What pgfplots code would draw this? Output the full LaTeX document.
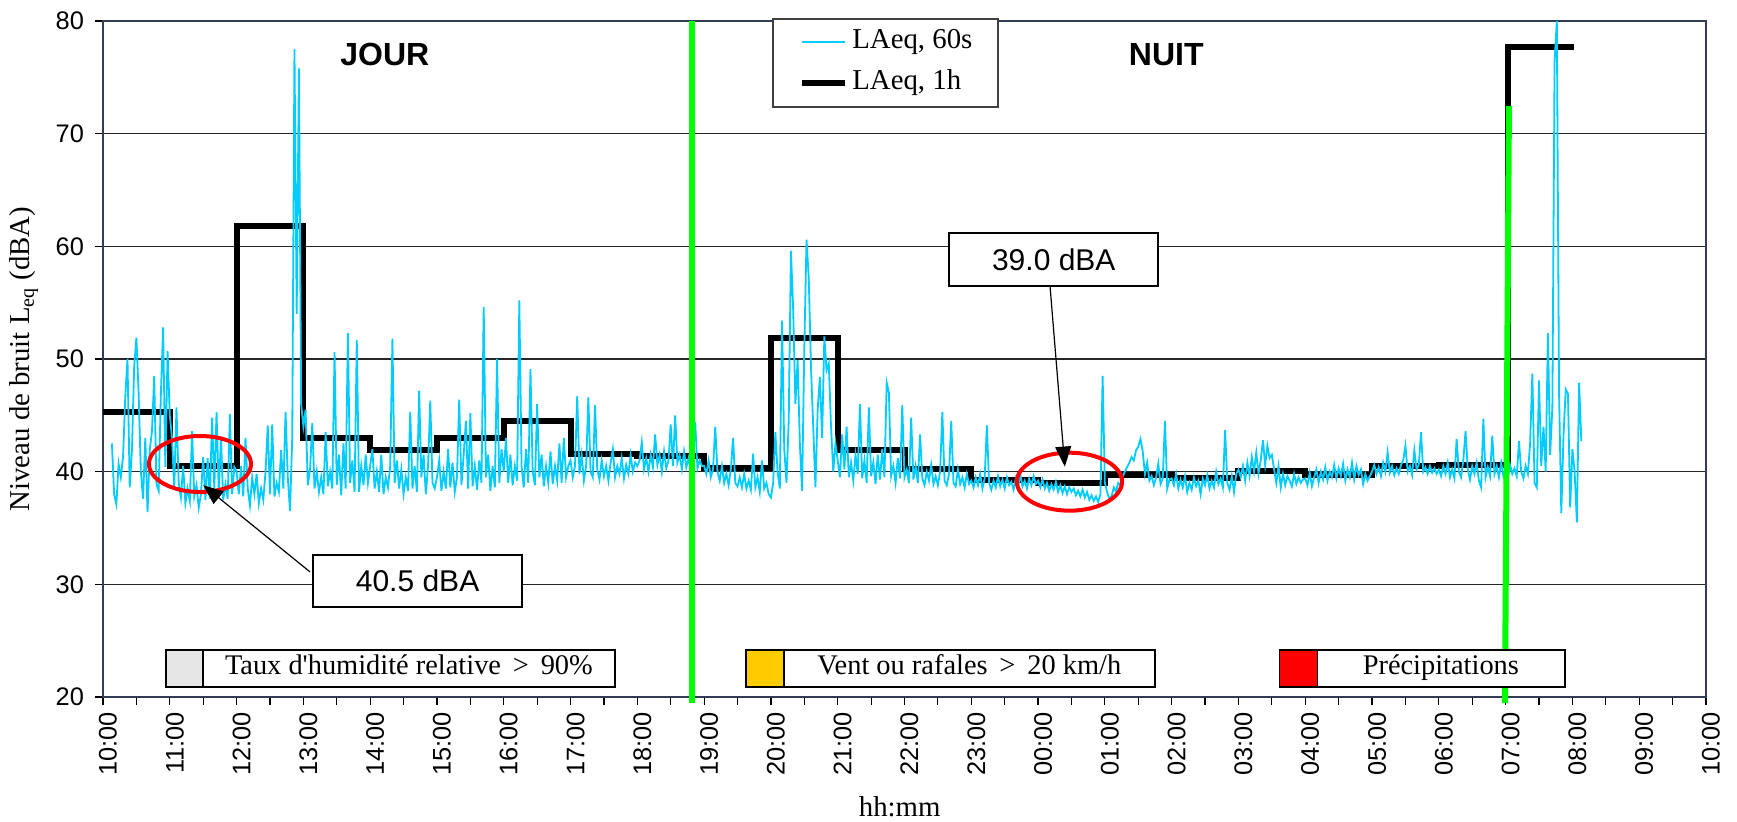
\documentclass[border=0pt]{standalone}
\usepackage{pgfplots}
\pgfplotsset{compat=1.18}
\usepackage{pgfplotstable}
\usepackage{fontspec}
\setmainfont{Liberation Serif}
\newfontfamily\arial{Liberation Sans}
\usetikzlibrary{arrows.meta}

\definecolor{cyanline}{RGB}{0,204,255}
\definecolor{greenline}{RGB}{0,255,0}
\definecolor{framecol}{RGB}{50,60,85}
\definecolor{humid}{RGB}{230,230,230}
\definecolor{wind}{RGB}{255,204,0}

% LAeq over 60 s, one value every 2 minutes from 10:08 to 08:08 (one line per hour)
\pgfplotstableread[row sep=\\]{
v\\
42.5\\ 38.0\\ 37.1\\ 40.7\\ 39.5\\ 41.3\\ 46.6\\ 50.0\\ 38.6\\ 41.9\\ 49.3\\ 51.9\\ 47.0\\ 40.0\\ 37.6\\ 43.0\\ 36.4\\ 41.9\\ 43.6\\ 48.5\\ 38.9\\ 38.3\\ 46.9\\ 52.8\\ 40.4\\ 50.7\\
45.0\\ 43.0\\ 38.5\\ 45.7\\ 39.0\\ 37.7\\ 40.5\\ 37.2\\ 38.5\\ 37.4\\ 43.6\\ 37.8\\ 38.8\\ 36.8\\ 38.0\\ 41.3\\ 37.5\\ 41.2\\ 37.6\\ 44.8\\ 38.5\\ 45.3\\ 38.2\\ 43.0\\ 37.5\\ 38.9\\ 37.6\\ 45.1\\ 38.0\\ 40.4\\
40.0\\ 38.0\\ 40.5\\ 37.8\\ 43.0\\ 38.5\\ 37.0\\ 39.5\\ 38.0\\ 39.8\\ 37.2\\ 38.5\\ 37.5\\ 40.0\\ 44.1\\ 38.0\\ 44.2\\ 37.8\\ 39.0\\ 38.2\\ 41.9\\ 38.5\\ 45.3\\ 39.5\\ 36.5\\ 43.0\\ 77.5\\ 54.0\\ 75.8\\ 46.0\\
44.0\\ 45.5\\ 38.8\\ 40.2\\ 44.3\\ 38.5\\ 40.0\\ 38.2\\ 39.5\\ 38.0\\ 43.5\\ 38.7\\ 40.0\\ 38.5\\ 50.6\\ 38.8\\ 41.5\\ 37.9\\ 42.5\\ 38.5\\ 52.3\\ 39.0\\ 41.0\\ 38.2\\ 51.7\\ 38.2\\ 40.5\\ 38.8\\ 41.5\\ 39.0\\
40.5\\ 42.0\\ 38.5\\ 40.0\\ 38.2\\ 41.5\\ 38.0\\ 39.5\\ 38.6\\ 40.5\\ 51.8\\ 39.0\\ 41.0\\ 38.5\\ 40.2\\ 38.0\\ 39.5\\ 38.3\\ 45.3\\ 38.5\\ 40.5\\ 38.2\\ 47.2\\ 39.5\\ 41.5\\ 38.0\\ 40.5\\ 46.3\\ 39.0\\ 38.5\\
39.5\\ 41.0\\ 38.3\\ 40.0\\ 38.5\\ 42.0\\ 38.6\\ 40.8\\ 38.2\\ 39.5\\ 46.4\\ 38.8\\ 41.5\\ 44.5\\ 38.5\\ 45.2\\ 38.7\\ 40.5\\ 38.4\\ 41.0\\ 39.0\\ 54.6\\ 39.5\\ 41.5\\ 38.3\\ 40.5\\ 38.6\\ 50.0\\ 39.0\\ 42.0\\
40.0\\ 43.0\\ 39.0\\ 41.5\\ 38.8\\ 40.5\\ 39.2\\ 55.2\\ 40.5\\ 38.6\\ 42.0\\ 39.0\\ 49.1\\ 40.0\\ 38.8\\ 46.0\\ 39.5\\ 41.5\\ 38.7\\ 40.5\\ 39.0\\ 41.8\\ 38.9\\ 40.5\\ 39.2\\ 42.5\\ 39.0\\ 43.0\\ 39.5\\ 40.5\\
41.0\\ 39.5\\ 40.5\\ 46.7\\ 39.8\\ 41.5\\ 39.2\\ 40.5\\ 46.6\\ 40.0\\ 39.5\\ 45.9\\ 40.2\\ 39.3\\ 41.0\\ 39.6\\ 40.5\\ 39.2\\ 40.8\\ 42.0\\ 39.5\\ 40.5\\ 39.8\\ 41.2\\ 39.4\\ 40.6\\ 39.8\\ 41.5\\ 40.0\\ 40.8\\
40.5\\ 41.0\\ 42.6\\ 40.2\\ 41.2\\ 40.0\\ 41.5\\ 40.4\\ 43.3\\ 40.6\\ 41.5\\ 40.0\\ 41.8\\ 40.3\\ 41.0\\ 44.2\\ 40.5\\ 45.0\\ 40.8\\ 41.5\\ 40.2\\ 41.8\\ 40.4\\ 41.2\\ 40.0\\ 41.5\\ 44.4\\ 40.3\\ 41.0\\ 40.5\\
40.5\\ 39.8\\ 41.0\\ 39.5\\ 40.2\\ 44.0\\ 40.0\\ 39.2\\ 40.5\\ 39.0\\ 39.8\\ 38.8\\ 40.2\\ 43.0\\ 39.0\\ 38.7\\ 39.5\\ 38.6\\ 39.8\\ 38.5\\ 39.2\\ 38.4\\ 41.6\\ 38.6\\ 39.5\\ 38.2\\ 41.0\\ 38.5\\ 39.0\\ 38.0\\
37.7\\ 39.0\\ 43.5\\ 40.0\\ 38.5\\ 53.4\\ 42.0\\ 39.0\\ 44.5\\ 59.6\\ 54.4\\ 46.0\\ 49.9\\ 42.5\\ 38.3\\ 51.0\\ 60.6\\ 57.2\\ 49.3\\ 44.0\\ 38.6\\ 45.5\\ 48.4\\ 43.0\\ 52.0\\ 49.0\\ 49.6\\ 44.0\\ 40.0\\ 42.5\\
41.0\\ 39.5\\ 43.3\\ 40.2\\ 44.0\\ 39.5\\ 40.8\\ 39.2\\ 41.5\\ 39.8\\ 46.0\\ 39.4\\ 41.0\\ 39.0\\ 45.7\\ 39.6\\ 40.8\\ 38.9\\ 41.5\\ 39.3\\ 42.0\\ 39.5\\ 47.9\\ 47.0\\ 39.6\\ 40.5\\ 39.0\\ 41.2\\ 39.4\\ 45.9\\
39.5\\ 40.2\\ 39.0\\ 44.8\\ 39.3\\ 40.5\\ 39.0\\ 43.3\\ 39.4\\ 38.8\\ 40.0\\ 39.2\\ 40.6\\ 38.9\\ 39.6\\ 38.8\\ 40.0\\ 45.3\\ 39.2\\ 38.8\\ 39.8\\ 44.5\\ 39.0\\ 38.7\\ 40.2\\ 38.9\\ 39.5\\ 38.6\\ 39.8\\ 38.9\\
39.2\\ 38.6\\ 39.5\\ 38.8\\ 39.8\\ 38.5\\ 39.4\\ 44.1\\ 39.0\\ 38.4\\ 39.2\\ 38.6\\ 39.6\\ 38.7\\ 39.3\\ 38.5\\ 39.5\\ 38.8\\ 39.1\\ 38.4\\ 39.4\\ 38.6\\ 39.8\\ 38.7\\ 39.2\\ 38.5\\ 39.4\\ 38.8\\ 39.6\\ 38.9\\
39.2\\ 38.6\\ 39.3\\ 38.5\\ 39.0\\ 38.3\\ 38.9\\ 38.4\\ 39.1\\ 38.2\\ 38.8\\ 38.1\\ 38.7\\ 38.0\\ 38.6\\ 38.2\\ 38.5\\ 37.9\\ 38.3\\ 37.8\\ 38.4\\ 37.7\\ 38.2\\ 37.5\\ 37.9\\ 37.4\\ 37.8\\ 37.3\\ 38.0\\ 48.5\\
39.0\\ 38.2\\ 37.6\\ 37.8\\ 38.6\\ 38.2\\ 39.0\\ 38.8\\ 39.6\\ 40.0\\ 40.4\\ 40.8\\ 41.3\\ 41.0\\ 41.9\\ 42.2\\ 42.9\\ 41.8\\ 39.8\\ 40.8\\ 39.2\\ 39.6\\ 38.8\\ 39.5\\ 40.7\\ 38.9\\ 39.4\\ 44.5\\ 38.5\\ 39.3\\
39.4\\ 38.8\\ 39.8\\ 38.5\\ 39.3\\ 38.6\\ 39.6\\ 38.2\\ 39.0\\ 38.4\\ 39.5\\ 38.7\\ 39.2\\ 38.0\\ 39.4\\ 38.8\\ 39.7\\ 38.5\\ 39.2\\ 38.6\\ 40.0\\ 38.9\\ 39.4\\ 38.6\\ 43.7\\ 39.0\\ 38.4\\ 39.6\\ 38.2\\ 39.8\\
40.2\\ 39.5\\ 40.5\\ 39.2\\ 40.8\\ 39.6\\ 41.3\\ 40.0\\ 41.7\\ 39.8\\ 41.0\\ 42.8\\ 40.6\\ 42.3\\ 41.2\\ 41.5\\ 40.2\\ 39.0\\ 40.5\\ 38.6\\ 39.8\\ 38.8\\ 39.6\\ 39.2\\ 38.7\\ 39.8\\ 38.9\\ 39.5\\ 39.0\\ 39.3\\
39.4\\ 38.8\\ 39.9\\ 38.7\\ 39.5\\ 40.2\\ 39.0\\ 40.0\\ 39.3\\ 40.4\\ 39.2\\ 40.0\\ 39.5\\ 40.6\\ 39.4\\ 40.3\\ 39.6\\ 40.7\\ 39.2\\ 40.2\\ 39.5\\ 40.8\\ 39.3\\ 40.5\\ 39.7\\ 40.2\\ 38.9\\ 39.8\\ 39.2\\ 39.6\\
40.0\\ 40.6\\ 39.8\\ 40.4\\ 39.6\\ 40.8\\ 40.0\\ 41.7\\ 39.9\\ 40.5\\ 39.7\\ 40.3\\ 39.8\\ 40.6\\ 41.0\\ 42.3\\ 40.0\\ 40.5\\ 39.7\\ 41.9\\ 40.2\\ 40.6\\ 43.5\\ 40.0\\ 40.4\\ 39.8\\ 40.5\\ 39.9\\ 40.3\\ 39.8\\
40.2\\ 39.6\\ 40.5\\ 39.8\\ 40.8\\ 39.5\\ 40.2\\ 39.4\\ 42.9\\ 40.0\\ 39.5\\ 41.0\\ 43.6\\ 40.2\\ 39.3\\ 40.5\\ 39.8\\ 40.8\\ 39.2\\ 38.6\\ 44.7\\ 39.5\\ 40.4\\ 39.6\\ 43.2\\ 39.8\\ 40.5\\ 39.5\\ 40.8\\ 39.6\\
40.2\\ 39.5\\ 40.6\\ 39.8\\ 40.3\\ 39.6\\ 42.7\\ 40.0\\ 39.4\\ 40.5\\ 39.8\\ 42.5\\ 48.7\\ 39.0\\ 38.6\\ 48.1\\ 40.5\\ 44.0\\ 40.0\\ 52.3\\ 41.5\\ 45.7\\ 76.4\\ 80.0\\ 47.0\\ 36.3\\ 43.2\\ 47.3\\ 46.9\\ 36.8\\ 42.0\\ 40.0\\ 35.5\\ 47.9\\ 42.7\\
}\laeqmin

\begin{document}
\begin{tikzpicture}
\useasboundingbox (-51.5pt,-62.5pt) rectangle (817pt,348.5pt);
\begin{axis}[
  at={(0,0)}, anchor=south west,
  scale only axis, width=801.5pt, height=338pt,
  xmin=0, xmax=24, ymin=20, ymax=80,
  clip=false,
  xtick={0,1,...,24},
  xticklabels={10:00,11:00,12:00,13:00,14:00,15:00,16:00,17:00,18:00,19:00,20:00,21:00,22:00,23:00,00:00,01:00,02:00,03:00,04:00,05:00,06:00,07:00,08:00,09:00,10:00},
  minor x tick num=1,
  ytick={20,30,...,80},
  tick pos=left,
  tick align=outside,
  major tick length=4pt, minor tick length=4pt,
  tick style={black, line width=0.6pt},
  minor tick style={black, line width=0.6pt},
  ymajorgrids,
  grid style={black!85, line width=0.6pt},
  axis line style={framecol, line width=1pt},
  /pgf/number format/assume math mode=true,
  yticklabel style={font=\arial\fontsize{12.7}{14}\selectfont, xshift=-2pt},
  xticklabel style={font=\arial\fontsize{12.7}{14}\selectfont, rotate=90, anchor=east, yshift=-2.5pt},
  ylabel={Niveau de bruit L\textsubscript{eq} (dBA)},
  xlabel={hh:mm},
  every axis y label/.style={at={(axis description cs:-0.0493,0.5)}, rotate=90, anchor=center, font=\fontsize{14.4}{17}\selectfont},
  every axis x label/.style={at={(axis description cs:0.497,-0.163)}, anchor=center, font=\fontsize{14.4}{17}\selectfont},
]

% hourly LAeq
\addplot[black, line width=3pt, const plot mark left] coordinates {
  (0,45.3) (1,40.5) (2,61.8) (3,43.0) (4,41.9) (5,43.0) (6,44.5) (7,41.6)
  (8,41.4) (9,40.3) (10,51.9) (11,41.9) (12,40.2) (13,39.3) (14,39.0)
  (15,39.7) (16,39.4) (17,40.1) (18,39.7) (19,40.5) (20,40.6) (21.03,77.7) (22.02,77.7)
};

% 60 s LAeq
\addplot[cyanline, line width=0.9pt] table[x expr={8/60+\coordindex/30}, y=v] {\laeqmin};

% day / night boundaries
\addplot[greenline, line width=3pt] coordinates {(8.818,80) (8.818,19.45)};
\addplot[greenline, line width=3pt] coordinates {(21.05,72.45) (20.99,19.45)};

% period labels
\node[font=\arial\bfseries\fontsize{16}{19}\selectfont] at (axis cs:4.22,77.03) {JOUR};
\node[font=\arial\bfseries\fontsize{16}{19}\selectfont] at (axis cs:15.92,77.0) {NUIT};

% highlighted quiet hours
\draw[red, line width=2pt] (axis cs:1.452,40.68) ellipse [x radius=25.5pt, y radius=14pt];
\draw[red, line width=2pt] (axis cs:14.47,39.11) ellipse [x radius=26.3pt, y radius=14.5pt];

\draw[black, line width=0.6pt, -{Triangle[length=10pt,width=8pt]}] (axis cs:3.10,31.1) -- (axis cs:1.50,38.8);
\draw[black, line width=0.6pt, -{Triangle[length=10pt,width=8pt]}] (axis cs:14.18,56.4) -- (axis cs:14.40,40.45);

\draw[black, line width=1pt, fill=white] (axis cs:3.144,32.6) rectangle (axis cs:6.273,28.0);
\node[font=\arial\fontsize{15}{18}\selectfont] at (axis cs:4.71,30.3) {40.5 dBA};
\draw[black, line width=1pt, fill=white] (axis cs:12.67,61.18) rectangle (axis cs:15.80,56.48);
\node[font=\arial\fontsize{15}{18}\selectfont] at (axis cs:14.235,58.83) {39.0 dBA};

% weather condition keys
\begin{scope}[line width=0.6pt, font=\fontsize{14.2}{17}\selectfont]
\draw[fill=humid] (axis cs:0.943,20.89) rectangle (axis cs:1.497,24.17);
\draw[fill=white] (axis cs:1.497,20.89) rectangle (axis cs:7.666,24.17);
\node[text height=1.6ex, text depth=0.3ex] at (axis cs:4.58,22.53) {Taux d\textquotesingle humidité relative \,\textgreater\, 90\%};
\draw[fill=wind] (axis cs:9.627,20.89) rectangle (axis cs:10.196,24.17);
\draw[fill=white] (axis cs:10.196,20.89) rectangle (axis cs:15.75,24.17);
\node[text height=1.6ex, text depth=0.3ex] at (axis cs:12.97,22.53) {Vent ou rafales \,\textgreater\, 20 km/h};
\draw[fill=red] (axis cs:17.62,20.89) rectangle (axis cs:18.18,24.17);
\draw[fill=white] (axis cs:18.18,20.89) rectangle (axis cs:21.89,24.17);
\node[text height=1.6ex, text depth=0.3ex] at (axis cs:20.03,22.53) {Précipitations};
\end{scope}

% legend
\draw[black!75, line width=0.6pt, fill=white] (axis cs:10.03,80.18) rectangle (axis cs:13.40,72.37);
\draw[cyanline, line width=0.9pt] (axis cs:10.466,78.14) -- (axis cs:11.11,78.14);
\draw[black, line width=3pt] (axis cs:10.466,74.50) -- (axis cs:11.11,74.50);
\node[anchor=west, inner sep=0pt, font=\fontsize{14.4}{17}\selectfont] at (axis cs:11.214,78.14) {LAeq, 60s};
\node[anchor=west, inner sep=0pt, font=\fontsize{14.4}{17}\selectfont] at (axis cs:11.214,74.50) {LAeq, 1h};
\end{axis}
\end{tikzpicture}
\end{document}
